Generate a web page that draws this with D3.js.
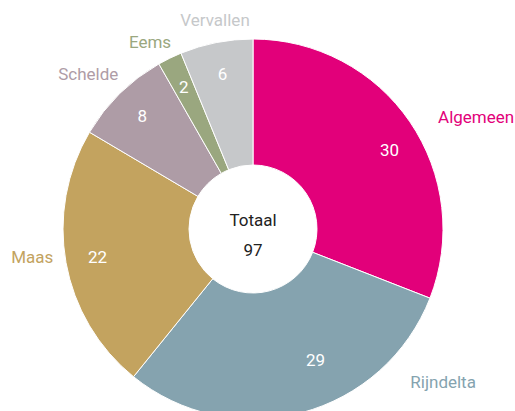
<!DOCTYPE html>
<html>
<head>
<meta charset="utf-8">
<script src="https://cdn.jsdelivr.net/npm/d3@7"></script>
<style>
  html, body { margin: 0; padding: 0; background: #fff; }
  svg { display: block; font-family: Roboto, "Noto Sans", sans-serif; }
</style>
</head>
<body>
<svg id="chart" width="515" height="411"></svg>
<script>
// Aantal per categorie
const categories = ["Algemeen", "Rijndelta", "Maas", "Schelde", "Eems", "Vervallen"];
const values = [30, 29, 22, 8, 2, 6];
const colors = ["#E2007A", "#85A3AF", "#C3A35F", "#AE9CA6", "#9AA77F", "#C6C8CA"];
const centerTitle = "Totaal";

const data = categories.map((c, i) => ({ name: c, value: values[i], color: colors[i] }));
const total = d3.sum(values);

const svg = d3.select("#chart");
const cx = 253, cy = 229;
const outerR = 190, innerR = 64;

const g = svg.append("g").attr("transform", `translate(${cx},${cy})`);

const pie = d3.pie().value(d => d.value).sort(null);
const arcs = pie(data);
const arc = d3.arc().innerRadius(innerR).outerRadius(outerR);

g.selectAll("path.slice")
  .data(arcs)
  .join("path")
  .attr("class", "slice")
  .attr("d", arc)
  .attr("fill", d => d.data.color)
  .attr("stroke", "#fff")
  .attr("stroke-width", 1);

// Value labels inside the ring
const valueArc = d3.arc().innerRadius(158).outerRadius(158);
const valueShift = { Algemeen: [6, 10], Rijndelta: [22, -22] };
g.selectAll("text.val")
  .data(arcs)
  .join("text")
  .attr("class", "val")
  .attr("transform", d => {
    const [x, y] = valueArc.centroid(d);
    const s = valueShift[d.data.name] || [0, 0];
    return `translate(${x + s[0]},${y + s[1]})`;
  })
  .attr("text-anchor", "middle")
  .attr("dominant-baseline", "central")
  .attr("fill", "#fff")
  .attr("font-size", 17)
  .text(d => d.data.value);

// Category labels outside the ring
const nameArc = d3.arc().innerRadius(212).outerRadius(212);
const nameShift = {
  Algemeen: [10, 8], Rijndelta: [103, -52], Maas: [9, -10],
  Schelde: [14, -4], Eems: [11, 4], Vervallen: [3, -1]
};
g.selectAll("text.name")
  .data(arcs)
  .join("text")
  .attr("class", "name")
  .attr("transform", d => {
    const [x, y] = nameArc.centroid(d);
    const s = nameShift[d.data.name] || [0, 0];
    return `translate(${x + s[0]},${y + s[1]})`;
  })
  .attr("text-anchor", d => {
    const mid = (d.startAngle + d.endAngle) / 2;
    if (Math.abs(Math.sin(mid)) < 0.25) return "middle";
    return Math.sin(mid) > 0 ? "start" : "end";
  })
  .attr("dominant-baseline", "central")
  .attr("fill", d => d.data.color)
  .attr("font-size", 17)
  .text(d => d.data.name);

// Centre total
g.append("text")
  .attr("y", -9)
  .attr("text-anchor", "middle")
  .attr("dominant-baseline", "central")
  .attr("fill", "#222")
  .attr("font-size", 17)
  .text(centerTitle);
g.append("text")
  .attr("y", 21)
  .attr("text-anchor", "middle")
  .attr("dominant-baseline", "central")
  .attr("fill", "#222")
  .attr("font-size", 17)
  .text(total);
</script>
</body>
</html>
